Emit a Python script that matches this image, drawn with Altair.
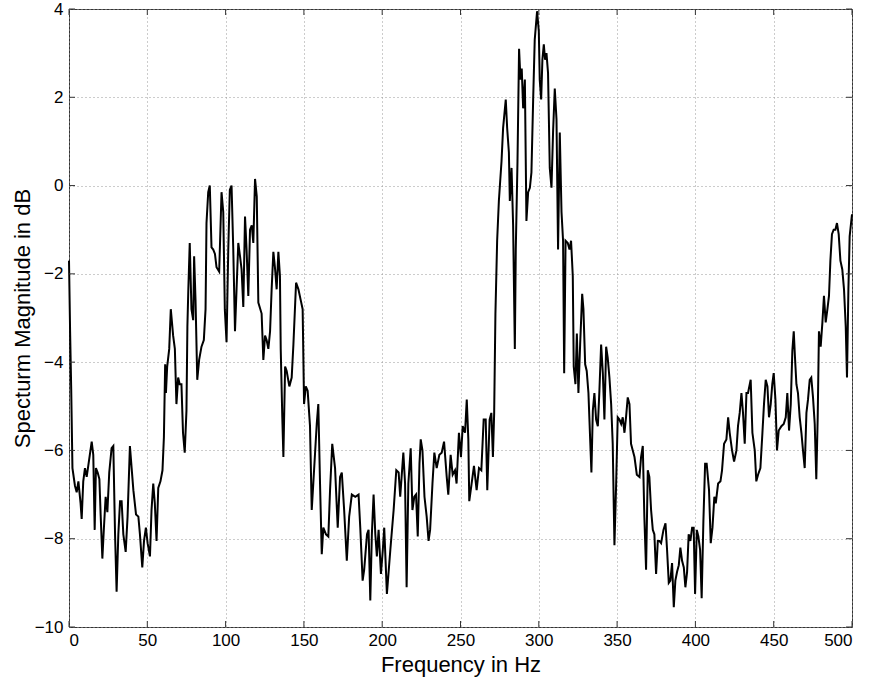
import altair as alt
import pandas as pd

# Frequency (Hz) and magnitude (dB)
freq = [
    0, 0.7, 1.4, 2.2, 3.8, 4.9, 6, 7.4, 8.1, 9.1, 10.2, 11.3, 12.3, 14.5, 15.5, 16.4, 17.2, 18.3, 19.4, 20.2,
    21.3, 22.3, 23.4, 24.5, 25.7, 27.2, 28.3, 29.4, 30.4, 31.5, 32.6, 33.6, 34.7, 36.2, 37.4, 38.9, 40, 41.1,
    42.8, 44.3, 45.3, 46.8, 47.9, 49.1, 50.2, 51.7, 52.7, 53.8, 54.8, 55.9, 57, 58.4, 59.7, 60.6, 61.4, 61.9,
    62.7, 64, 65, 66.5, 67.6, 68.6, 69.7, 70.7, 71.8, 72.8, 73.9, 75, 75.6, 76.2, 77.1, 78.2, 79.3, 79.9, 80.8,
    81.9, 83.1, 84.6, 86.1, 87.2, 87.8, 88.9, 89.9, 91, 92.1, 93.2, 94.2, 95.9, 97.4, 98.5, 99.5, 100.6, 101.7,
    102.7, 103.8, 104.9, 106, 107, 108.1, 109.2, 110.2, 111.3, 112.4, 113.4, 114.5, 115.6, 116.7, 117.7, 118.8,
    119.9,
    120.9, 123, 124.1, 125.2, 126.2, 127.3, 128.4, 129.4, 130.5, 131.5, 132.6, 133.7, 134.7, 135.2, 136.2, 136.9,
    138, 139, 140.7, 142.2, 143.3, 145, 146.5, 148, 149.2, 150.1, 151.2, 152.4, 153.9, 155, 156, 158.2, 159.2,
    160.3, 161.4, 162.4, 164.1, 165.6, 166.7, 168.1, 169.9, 171.6, 173.1, 174.2, 175.7, 177.4, 178.9, 180.6,
    182.8, 184.9, 186, 187.5, 188.5, 190.3, 191.3, 192.4, 193.4, 194.5, 195.6, 196.6, 197.7, 199.2, 200.4,
    201.3, 203, 205.2, 207.3, 209, 210.5, 211.5,
    213.5, 214.6, 215.6, 216.7, 218.2, 219.3, 220.5, 221.6, 222.7, 223.8, 224.6, 225.7, 227, 228.4, 229.6,
    230.6, 232.1, 233.3, 234.8, 236.5, 238, 239.5, 241.2, 242.2, 243.7, 245, 246.5, 247.5, 249, 250.3, 251.4,
    252.9, 254, 255, 255.6, 257.1, 258.6, 260.3, 261.8, 263.3, 264.8, 266.1, 267.1, 268.6, 269.7, 270.7,
    271.5, 272.3, 273.4, 274.5, 276.2, 277.2, 278.9, 279.8, 280.9, 281.5, 282.6, 283.6, 284.7, 285.3, 286.4,
    287.4, 288.3, 289.1, 290, 291.1, 292.1, 293.2, 294.3, 295.3, 296.4, 297.4, 298.9, 300, 300.6, 301.5, 302.3,
    303.2, 304, 304.9, 305.9, 307, 308.1, 309.1, 310.2, 311.3, 312.3, 313.4, 314.5, 315.5,
    316.2, 317.1, 318.5, 319.6, 320.6, 321.7, 322.3, 323.4, 324.3, 325.3, 326.4, 327.7, 328.5, 329.6, 330.6,
    331.7, 332.8, 333.6, 334.5, 335.5, 336.6, 337.7, 338.7, 339.8, 340.9, 341.9, 343, 344, 345.1, 346.2, 347.2,
    348.3, 349.4, 350.4, 351.5, 352.6, 353.6, 354.7, 355.7, 356.8, 357.9, 358.9, 360, 361.1, 362.6, 364.3,
    365.3, 366.4, 367.4, 368.5, 369.6, 370.6, 371.7, 372.8, 373.8, 374.9, 376, 377, 378.1, 379.6, 380.9, 381.9,
    383, 384, 385.1, 386.2, 387.2, 388.3, 389.4, 390.4, 391.5, 392.6, 393.6, 394.7, 395.7, 396.8, 397.9, 398.9,
    399.8, 400.9, 401.9, 403, 404, 405.1,
    406.2, 407.2, 408.7, 409.8, 410.9, 412.1, 413, 414.5, 416, 417, 418.3, 419.8, 420.9, 421.9, 423.4, 424.7,
    426.2, 427.2, 428.3, 429.4, 430.4, 431.5, 432.6, 433.6, 435.3, 436.4, 437.9, 438.9, 440, 441.5, 442.8,
    443.8, 444.9, 446, 447, 448.1, 449.1, 450, 451.1, 452.1, 453.2, 454.9, 456.4, 457.7, 458.7, 459.8, 460.9,
    461.9, 462.8, 463.6, 464.5, 465.5, 466.6, 467.7, 468.7, 469.8, 470.9, 471.9, 473, 474, 475.1, 476.2, 477.2,
    478.1, 478.9, 480, 481.1, 482.1, 483.2, 484.3, 485.3, 486.2, 487.2, 488.3, 489.4, 490.4, 491.5, 492.6,
    493.8, 494.9, 496, 496.8, 497.7, 498.5, 500,
]

mag = [
    -1.7, -3.3, -4.6, -6.4, -6.8, -6.95, -6.7, -7.2, -7.55, -6.7, -6.4, -6.6, -6.35, -5.8, -6.1, -7.8, -6.4, -6.5, -6.65, -7.45,
    -8.45, -7.75, -7.05, -7.4, -6.5, -5.95, -5.9, -7.9, -9.2, -7.9, -7.15, -7.15, -7.9, -8.3, -7.5, -5.9, -6.4, -6.9,
    -7.45, -7.5, -7.9, -8.65, -8.05, -7.75, -8.1, -8.4, -7.35, -6.75, -7.2, -8.05, -6.85, -6.7, -6.45, -5.7, -4.05, -4.7,
    -4.1, -3.7, -2.8, -3.4, -3.7, -4.95, -4.35, -4.5, -4.5, -5.6, -6.05, -5.1, -3.2, -2.35, -1.3, -2.8, -3.05, -1.6, -2.6,
    -4.4, -3.95, -3.65, -3.5, -2.8, -0.85, -0.15, 0, -1.4, -1.45, -1.55, -1.85, -1.95, -0.15, -0.6, -2.8, -3.55, -1.45,
    -0.1, 0, -1.45, -3.3, -2.35, -1.3, -1.6, -1.9, -2.75, -0.7, -1.45, -2.5, -1, -0.9, -1.3, 0.15,
    -0.25,
    -2.65, -2.9, -3.95, -3.4, -3.5, -3.7, -3.3, -2.35, -1.5, -1.85, -2.35, -1.5, -2.05, -3.7, -5.25, -6.15,
    -4.1, -4.2, -4.55, -4.35, -3.6, -2.2, -2.35, -2.6, -2.8, -4.95, -4.55, -4.65, -5.45, -7.35, -6.75, -5.4, -4.95,
    -6.75, -8.35, -7.75, -7.9, -7.95, -6.9, -5.85, -6.4, -7.75, -6.6, -6.5, -7.35, -8.5, -7.5, -7,
    -7.05, -7, -7.75, -8.95, -8.7, -7.9, -7.8, -9.4, -7.9, -7, -7.9, -8.4, -7.8, -8.8, -8.25,
    -7.75, -9.25, -8.25, -7.35, -6.45, -6.5, -7.05,
    -6.05, -6.75, -9.1, -6.75, -5.95, -7.35, -7.05, -7, -7.95, -6.3, -5.75, -6, -7.05, -7.5, -8.05,
    -7.8, -6.75, -6.05, -6.4, -6.1, -6.05, -5.8, -6.6, -7, -6.1, -6.55, -6.45, -6.75, -5.6, -6.15, -5.45,
    -5.6, -4.85, -5.75, -7.15, -6.75, -6.35, -6.9, -6.4, -6.45, -5.3, -5.3, -6.9, -5.3, -5.15, -6.15,
    -5.15, -2.9, -1.25, -0.35, 0.55, 1.3, 1.95, 1.3, 0.75, -0.35, 0.4, -0.9, -3.7, -1.45, 0.55,
    3.1, 2.4, 2.65, 1.75, 2.4, -0.8, -0.15, -0.05, 0.3, 1.95, 3.3, 3.95, 3.5, 2.4, 1.95, 2.85,
    3.2, 2.85, 3, 2.55, 0.4, -0.05, 1.2, 2.2, 1.5, -1.45, 1.2, -0.6, -1.25,
    -4.25, -1.25, -1.3, -1.45, -1.25, -2.05, -4.1, -4.5, -3.35, -4.7, -3.6, -2.45, -2.8, -4.05, -4.2,
    -4.7, -5.75, -6.5, -5.1, -4.7, -5.3, -5.45, -4.65, -3.6, -4.25, -5.3, -3.65, -3.9, -4.35, -4.95, -5.85,
    -8.15, -6.75, -5.25, -5.3, -5.4, -5.25, -5.6, -5.25, -4.8, -4.95, -5.85, -6, -6.15, -6.55, -6.6,
    -6.15, -5.9, -7.5, -8.7, -6.45, -6.6, -7.35, -7.8, -7.9, -8.8, -8.05, -8.05, -8.1, -7.8, -7.65, -8.25,
    -9, -8.95, -8.55, -9.55, -8.95, -8.75, -8.6, -8.2, -8.5, -8.65, -9.1, -8.75, -7.9, -8.05, -7.75, -7.75,
    -9.25, -7.8, -7.95, -8.25, -9.35, -7.6,
    -6.3, -6.3, -6.9, -8.1, -7.75, -7.05, -7.2, -6.75, -6.7, -6.45, -5.85, -5.75, -5.25, -5.6, -6, -6.25,
    -6, -5.45, -5.15, -4.7, -5.15, -5.85, -4.7, -4.7, -4.4, -5.6, -6, -6.7, -6.55, -6.4, -5.6,
    -4.95, -4.4, -4.55, -5.25, -4.95, -4.5, -4.25, -4.85, -6, -5.55, -5.45, -5.4, -5.25, -4.7, -5.55, -4.95,
    -3.75, -3.3, -3.9, -4.5, -4.7, -5.25, -5.6, -6, -6.4, -5.15, -4.85, -4.4, -4.35, -4.8, -5.4, -6.65,
    -5.25, -3.3, -3.65, -3.1, -2.5, -3.1, -2.8, -2.5, -1.7, -1.1, -1, -1, -0.85, -1.1, -1.7,
    -1.9, -2.35, -3.2, -4.35, -2.35, -1.15, -0.65,
]

x_ticks = [0, 50, 100, 150, 200, 250, 300, 350, 400, 450, 500]
y_ticks = [-10, -8, -6, -4, -2, 0, 2, 4]

W, H = 783, 618
FONT = "Liberation Sans"

df = pd.DataFrame({"f": freq, "m": mag})
xt = pd.DataFrame({"t": x_ticks})
yt = pd.DataFrame({"t": y_ticks})

xscale = alt.Scale(domain=[0, 500], nice=False, zero=False)
yscale = alt.Scale(domain=[-10, 4], nice=False, zero=False)

line = alt.Chart(df).mark_line(color="black", strokeWidth=2.0, strokeJoin="miter").encode(
    x=alt.X("f:Q", scale=xscale, title="Frequency in Hz",
            axis=alt.Axis(values=x_ticks, format="d", grid=True, tickSize=0, labelPadding=5,
                          titlePadding=6, domain=False)),
    y=alt.Y("m:Q", scale=yscale, title="Specturm Magnitude in dB",
            axis=alt.Axis(values=y_ticks, format="d", grid=True, tickSize=0, labelPadding=6,
                          titlePadding=0, domain=False)),
)

tick_color = "#333333"
bottom_ticks = alt.Chart(xt).mark_rule(color=tick_color, strokeWidth=1).encode(
    x=alt.X("t:Q", scale=xscale), y=alt.value(H), y2=alt.value(H - 6))
top_ticks = alt.Chart(xt).mark_rule(color=tick_color, strokeWidth=1).encode(
    x=alt.X("t:Q", scale=xscale), y=alt.value(0), y2=alt.value(6))
left_ticks = alt.Chart(yt).mark_rule(color=tick_color, strokeWidth=1).encode(
    y=alt.Y("t:Q", scale=yscale), x=alt.value(0), x2=alt.value(6))
right_ticks = alt.Chart(yt).mark_rule(color=tick_color, strokeWidth=1).encode(
    y=alt.Y("t:Q", scale=yscale), x=alt.value(W), x2=alt.value(W - 6))

chart = alt.layer(line, bottom_ticks, top_ticks, left_ticks, right_ticks).properties(
    width=W, height=H,
    autosize=alt.AutoSizeParams(type="none"),
    padding={"left": 69, "top": 9, "right": 18, "bottom": 60},
    background="white",
).configure_view(
    stroke="#333333", strokeWidth=1
).configure_axis(
    gridColor="#999999", gridDash=[1, 3], gridWidth=1, gridOpacity=1,
    labelFont=FONT, labelFontSize=17, labelColor="black",
    titleFont=FONT, titleFontSize=22, titleFontWeight="normal", titleColor="black",
)

chart.save("out.html", embed_options={"renderer": "svg", "actions": False})
